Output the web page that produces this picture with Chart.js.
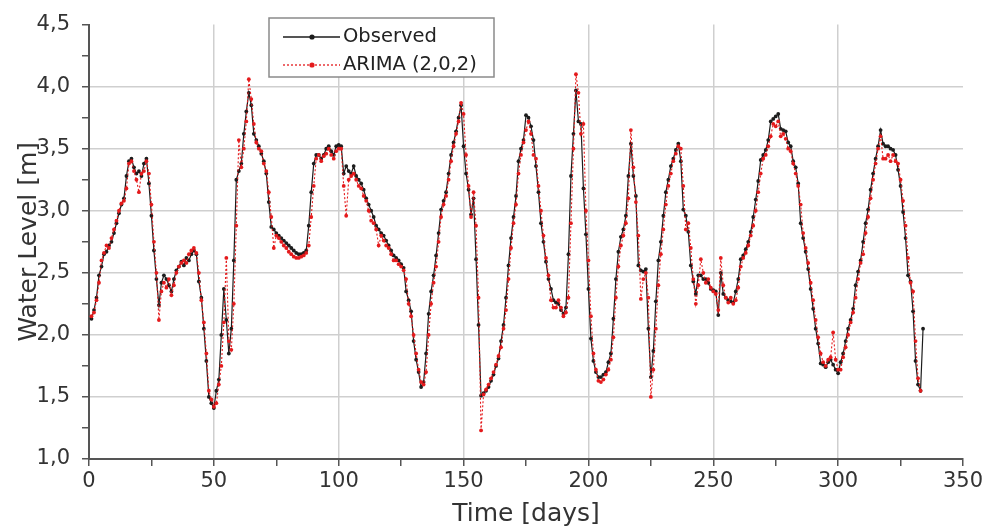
<!DOCTYPE html>
<html>
<head>
<meta charset="utf-8">
<title>Water level - observed vs ARIMA</title>
<script src="https://cdn.jsdelivr.net/npm/chart.js@4.4.1/dist/chart.umd.min.js"></script>
<style>
  html, body { margin: 0; padding: 0; background: #fff; }
  #wrap { width: 990px; height: 527px; }
</style>
</head>
<body>
<div id="wrap"><canvas id="myChart" width="990" height="527"></canvas></div>
<script>
// daily series, first value is day 1
var firstDay = 1;

var observed = [
  2.13, 2.2, 2.3, 2.48, 2.55, 2.65, 2.67, 2.72, 2.75, 2.82,
  2.9, 2.98, 3.05, 3.1, 3.28, 3.4, 3.42, 3.35, 3.3, 3.32,
  3.28, 3.38, 3.42, 3.22, 2.96, 2.68, 2.45, 2.24, 2.42, 2.48,
  2.45, 2.4, 2.35, 2.45, 2.52, 2.55, 2.59, 2.56, 2.62, 2.6,
  2.65, 2.68, 2.65, 2.43, 2.3, 2.05, 1.79, 1.5, 1.45, 1.41,
  1.55, 1.64, 2.0, 2.37, 2.12, 1.85, 2.05, 2.6, 3.25, 3.32,
  3.38, 3.62, 3.8, 3.95, 3.85, 3.62, 3.57, 3.52, 3.46, 3.4,
  3.3, 3.07, 2.87, 2.85, 2.82, 2.8, 2.78, 2.76, 2.74, 2.72,
  2.7, 2.68, 2.66, 2.65, 2.65, 2.66, 2.68, 2.88, 3.15, 3.38,
  3.45, 3.45, 3.42, 3.45, 3.5, 3.52, 3.48, 3.45, 3.52, 3.53,
  3.52, 3.3, 3.36, 3.32, 3.3, 3.36, 3.28, 3.25, 3.22, 3.17,
  3.1, 3.05, 3.0, 2.95, 2.88, 2.85, 2.82, 2.8, 2.76, 2.72,
  2.68, 2.64, 2.62, 2.6, 2.57, 2.54, 2.35, 2.28, 2.19, 1.95,
  1.8, 1.7, 1.58, 1.62, 1.85, 2.17, 2.35, 2.48, 2.64, 2.82,
  3.01, 3.08, 3.15, 3.3, 3.45, 3.55, 3.64, 3.75, 3.85, 3.52,
  3.3, 3.17, 2.97, 3.1, 2.61, 2.08, 1.51, 1.53, 1.55, 1.58,
  1.63, 1.68, 1.75, 1.81, 1.95, 2.08, 2.3, 2.56, 2.78, 2.95,
  3.12, 3.4, 3.5, 3.57, 3.77, 3.75, 3.68, 3.57, 3.36, 3.15,
  2.9, 2.75, 2.59, 2.45, 2.37, 2.28, 2.26, 2.25, 2.2, 2.17,
  2.22, 2.65, 3.28, 3.62, 3.97, 3.72, 3.7, 3.18, 2.81, 2.37,
  1.97, 1.79, 1.7, 1.66, 1.66, 1.68, 1.7, 1.78, 1.85, 2.13,
  2.45, 2.67, 2.79, 2.85, 2.96, 3.28, 3.54, 3.28, 3.12, 2.56,
  2.52, 2.51, 2.53, 2.05, 1.66, 1.87, 2.27, 2.6, 2.75, 2.96,
  3.15, 3.25, 3.36, 3.42, 3.49, 3.54, 3.4, 3.01, 2.96, 2.83,
  2.56, 2.43, 2.33, 2.48, 2.48, 2.45, 2.45, 2.42, 2.37, 2.36,
  2.35, 2.16, 2.5, 2.33, 2.3, 2.28, 2.27, 2.26, 2.35, 2.45,
  2.61, 2.64, 2.69, 2.75, 2.83, 2.95, 3.09, 3.24, 3.41, 3.45,
  3.49, 3.57, 3.72, 3.74, 3.76, 3.78, 3.66, 3.65, 3.64, 3.55,
  3.52, 3.4, 3.35, 3.22, 2.9, 2.78, 2.67, 2.53, 2.37, 2.21,
  2.05, 1.93, 1.77, 1.76, 1.74, 1.78, 1.8, 1.76, 1.72, 1.69,
  1.78, 1.85, 1.95, 2.05, 2.12, 2.21, 2.4, 2.51, 2.6, 2.75,
  2.9, 3.01, 3.17, 3.3, 3.42, 3.52, 3.65, 3.54, 3.52, 3.52,
  3.5, 3.49, 3.45, 3.33, 3.2, 2.99, 2.78, 2.48, 2.43, 2.19,
  1.79, 1.6, 1.55, 2.05
];

var arima = [
  2.15, 2.18, 2.28, 2.42, 2.6, 2.66, 2.72, 2.7, 2.78, 2.85,
  2.92, 3.0, 3.06, 3.08, 3.18, 3.38, 3.4, 3.32, 3.25, 3.15,
  3.3, 3.32, 3.4, 3.3, 3.05, 2.75, 2.5, 2.12, 2.35, 2.42,
  2.38, 2.45, 2.32, 2.4, 2.5, 2.55, 2.58, 2.6, 2.58, 2.65,
  2.68, 2.7, 2.66, 2.5, 2.28, 2.1, 1.85, 1.55, 1.48, 1.42,
  1.45, 1.6, 1.75, 2.1, 2.62, 1.95, 1.88, 2.25, 2.88, 3.57,
  3.35, 3.5, 3.72, 4.06, 3.9, 3.7, 3.55, 3.5, 3.48, 3.38,
  3.32, 3.15, 2.95, 2.7, 2.8, 2.78, 2.75, 2.72, 2.7, 2.67,
  2.65, 2.63, 2.62, 2.62, 2.63, 2.64, 2.66, 2.72, 2.95, 3.2,
  3.42, 3.45, 3.4, 3.44, 3.46, 3.5, 3.45, 3.42, 3.48, 3.5,
  3.5, 3.2, 2.96, 3.25, 3.28, 3.3, 3.25, 3.2, 3.18, 3.12,
  3.08, 3.0, 2.92, 2.9, 2.85, 2.72, 2.8, 2.76, 2.72, 2.7,
  2.65, 2.6, 2.6, 2.57, 2.55, 2.52, 2.45, 2.25, 2.15, 2.0,
  1.85, 1.72, 1.62, 1.6, 1.7, 2.0, 2.25, 2.42, 2.55, 2.75,
  2.95, 3.05, 3.12, 3.25, 3.4, 3.52, 3.62, 3.72, 3.87, 3.78,
  3.45, 3.2, 2.95, 3.15, 2.88, 2.3, 1.23, 1.52, 1.56, 1.6,
  1.65, 1.7, 1.76, 1.83, 1.9, 2.05, 2.2, 2.45, 2.7, 2.9,
  3.05, 3.3, 3.45, 3.55, 3.65, 3.72, 3.62, 3.45, 3.42, 3.2,
  3.0, 2.8, 2.62, 2.48, 2.28, 2.22, 2.22, 2.28, 2.22, 2.15,
  2.18, 2.3, 2.9, 3.5, 4.1, 3.95, 3.62, 3.7, 3.0, 2.6,
  2.15, 1.85, 1.72, 1.63, 1.62, 1.64, 1.68, 1.72, 1.8, 1.98,
  2.3, 2.55, 2.72, 2.8, 2.9, 3.1, 3.65, 3.35, 3.07, 2.8,
  2.29, 2.45, 2.5, 2.3, 1.5, 1.72, 2.05, 2.4, 2.65, 2.85,
  3.05, 3.2, 3.3, 3.4, 3.46, 3.52, 3.5, 3.2, 2.85, 2.9,
  2.7, 2.45, 2.25, 2.4, 2.61, 2.5, 2.42, 2.45, 2.38, 2.35,
  2.33, 2.2, 2.62, 2.4, 2.3, 2.26, 2.3, 2.25, 2.28, 2.38,
  2.55, 2.62, 2.66, 2.72, 2.8, 2.88, 3.0, 3.15, 3.3, 3.42,
  3.45, 3.52, 3.6, 3.7, 3.68, 3.72, 3.6, 3.62, 3.58, 3.5,
  3.48, 3.38, 3.3, 3.2, 3.05, 2.82, 2.7, 2.58, 2.42, 2.28,
  2.12, 1.98, 1.85, 1.78, 1.75, 1.8, 1.82, 2.02, 1.8, 1.72,
  1.72, 1.82, 1.9, 2.0, 2.1, 2.18, 2.3, 2.45, 2.58, 2.65,
  2.82, 2.95, 3.1, 3.25, 3.38, 3.5, 3.6, 3.42, 3.42, 3.45,
  3.4, 3.45, 3.4, 3.38, 3.25, 3.08, 2.88, 2.62, 2.42, 2.35,
  1.95, 1.65, 1.55
];

var seriesNames = ["Observed", "ARIMA (2,0,2)"];
var xTitle = "Time [days]";
var yTitle = "Water Level [m]";

function toPoints(arr) {
    var pts = [];
    for (i = 0; i < arr.length; i++) {
        pts.push({x: firstDay + i, y: arr[i]});
    }
    return pts;
}

var FONT = "'DejaVu Sans', sans-serif";
var BLACK = "#1c1c1c";
var RED = "#e41a1c";

// white page behind the chart
var whiteBg = {
    id: "whiteBg",
    beforeDraw: function (chart) {
        var c = chart.ctx;
        c.save();
        c.fillStyle = "#fff";
        c.fillRect(0, 0, chart.width, chart.height);
        c.restore();
    }
};

// boxed legend sitting inside the plot, like the original figure
var boxLegend = {
    id: "boxLegend",
    afterDraw: function (chart) {
        var c = chart.ctx;
        c.save();
        c.fillStyle = "#fff";
        c.fillRect(269, 18, 225, 59);
        c.strokeStyle = "#8a8a8a";
        c.lineWidth = 1.5;
        c.strokeRect(269, 18, 225, 59);

        var rows = [
            {y: 37, color: BLACK, dash: [], name: seriesNames[0]},
            {y: 65, color: RED, dash: [2, 2], name: seriesNames[1]}
        ];
        rows.forEach(function (r) {
            c.strokeStyle = r.color;
            c.lineWidth = 1.3;
            c.setLineDash(r.dash);
            c.beginPath();
            c.moveTo(283, r.y);
            c.lineTo(340, r.y);
            c.stroke();
            c.setLineDash([]);
            c.fillStyle = r.color;
            c.beginPath();
            c.arc(312, r.y, 2.6, 0, Math.PI * 2);
            c.fill();
            c.fillStyle = "#222";
            c.font = "19.5px " + FONT;
            c.textBaseline = "middle";
            c.textAlign = "left";
            c.fillText(r.name, 343, r.y);
        });
        c.restore();
    }
};

function isMajor(v, step) {
    return Math.abs(v / step - Math.round(v / step)) < 1e-6;
}

var ctx = document.getElementById("myChart").getContext("2d");
var chart = new Chart(ctx, {
    type: "line",
    data: {
        datasets: [{
            label: seriesNames[1],
            data: toPoints(arima),
            borderColor: RED,
            borderWidth: 1.1,
            borderDash: [2, 2],
            pointRadius: 1.9,
            pointBackgroundColor: RED,
            pointBorderWidth: 0,
            tension: 0
        }, {
            label: seriesNames[0],
            data: toPoints(observed),
            borderColor: BLACK,
            borderWidth: 1.2,
            pointRadius: 1.9,
            pointBackgroundColor: BLACK,
            pointBorderWidth: 0,
            tension: 0
        }]
    },
    options: {
        responsive: false,
        animation: false,
        devicePixelRatio: 1,
        layout: {padding: {top: 20, right: 27, left: 0, bottom: 0}},
        plugins: {
            legend: {display: false},
            tooltip: {enabled: false}
        },
        scales: {
            x: {
                type: "linear",
                min: 0,
                max: 350,
                afterFit: function (s) { s.height = 68; },
                border: {color: "#555", width: 2},
                grid: {
                    color: function (c) {
                        var v = c.tick.value;
                        return (isMajor(v, 50) && v > 0 && v < 350) ? "#cfcfcf" : "rgba(0,0,0,0)";
                    },
                    lineWidth: 1.5,
                    tickColor: "#555",
                    tickLength: 7
                },
                ticks: {
                    stepSize: 25,
                    autoSkip: false,
                    maxRotation: 0,
                    padding: 3,
                    color: "#333",
                    font: {family: FONT, size: 21},
                    callback: function (v) { return isMajor(v, 50) ? String(v) : ""; }
                },
                title: {
                    display: true,
                    text: xTitle,
                    color: "#333",
                    font: {family: FONT, size: 25, lineHeight: 1},
                    padding: {top: 0, bottom: 0}
                }
            },
            y: {
                min: 1,
                max: 4.5,
                afterFit: function (s) { s.width = 89; },
                border: {color: "#555", width: 2},
                grid: {
                    color: function (c) {
                        var v = c.tick.value;
                        return (isMajor(v, 0.5) && v > 1 && v < 4.5) ? "#cfcfcf" : "rgba(0,0,0,0)";
                    },
                    lineWidth: 1.5,
                    tickColor: "#555",
                    tickLength: 7
                },
                ticks: {
                    stepSize: 0.25,
                    autoSkip: false,
                    padding: 12,
                    color: "#333",
                    font: {family: FONT, size: 21},
                    callback: function (v) {
                        return isMajor(v, 0.5) ? v.toFixed(1).replace(".", ",") : "";
                    }
                },
                title: {
                    display: true,
                    text: yTitle,
                    color: "#333",
                    font: {family: FONT, size: 25, lineHeight: 1},
                    padding: {top: 17, bottom: 0}
                }
            }
        }
    },
    plugins: [whiteBg, boxLegend]
});
</script>
</body>
</html>
